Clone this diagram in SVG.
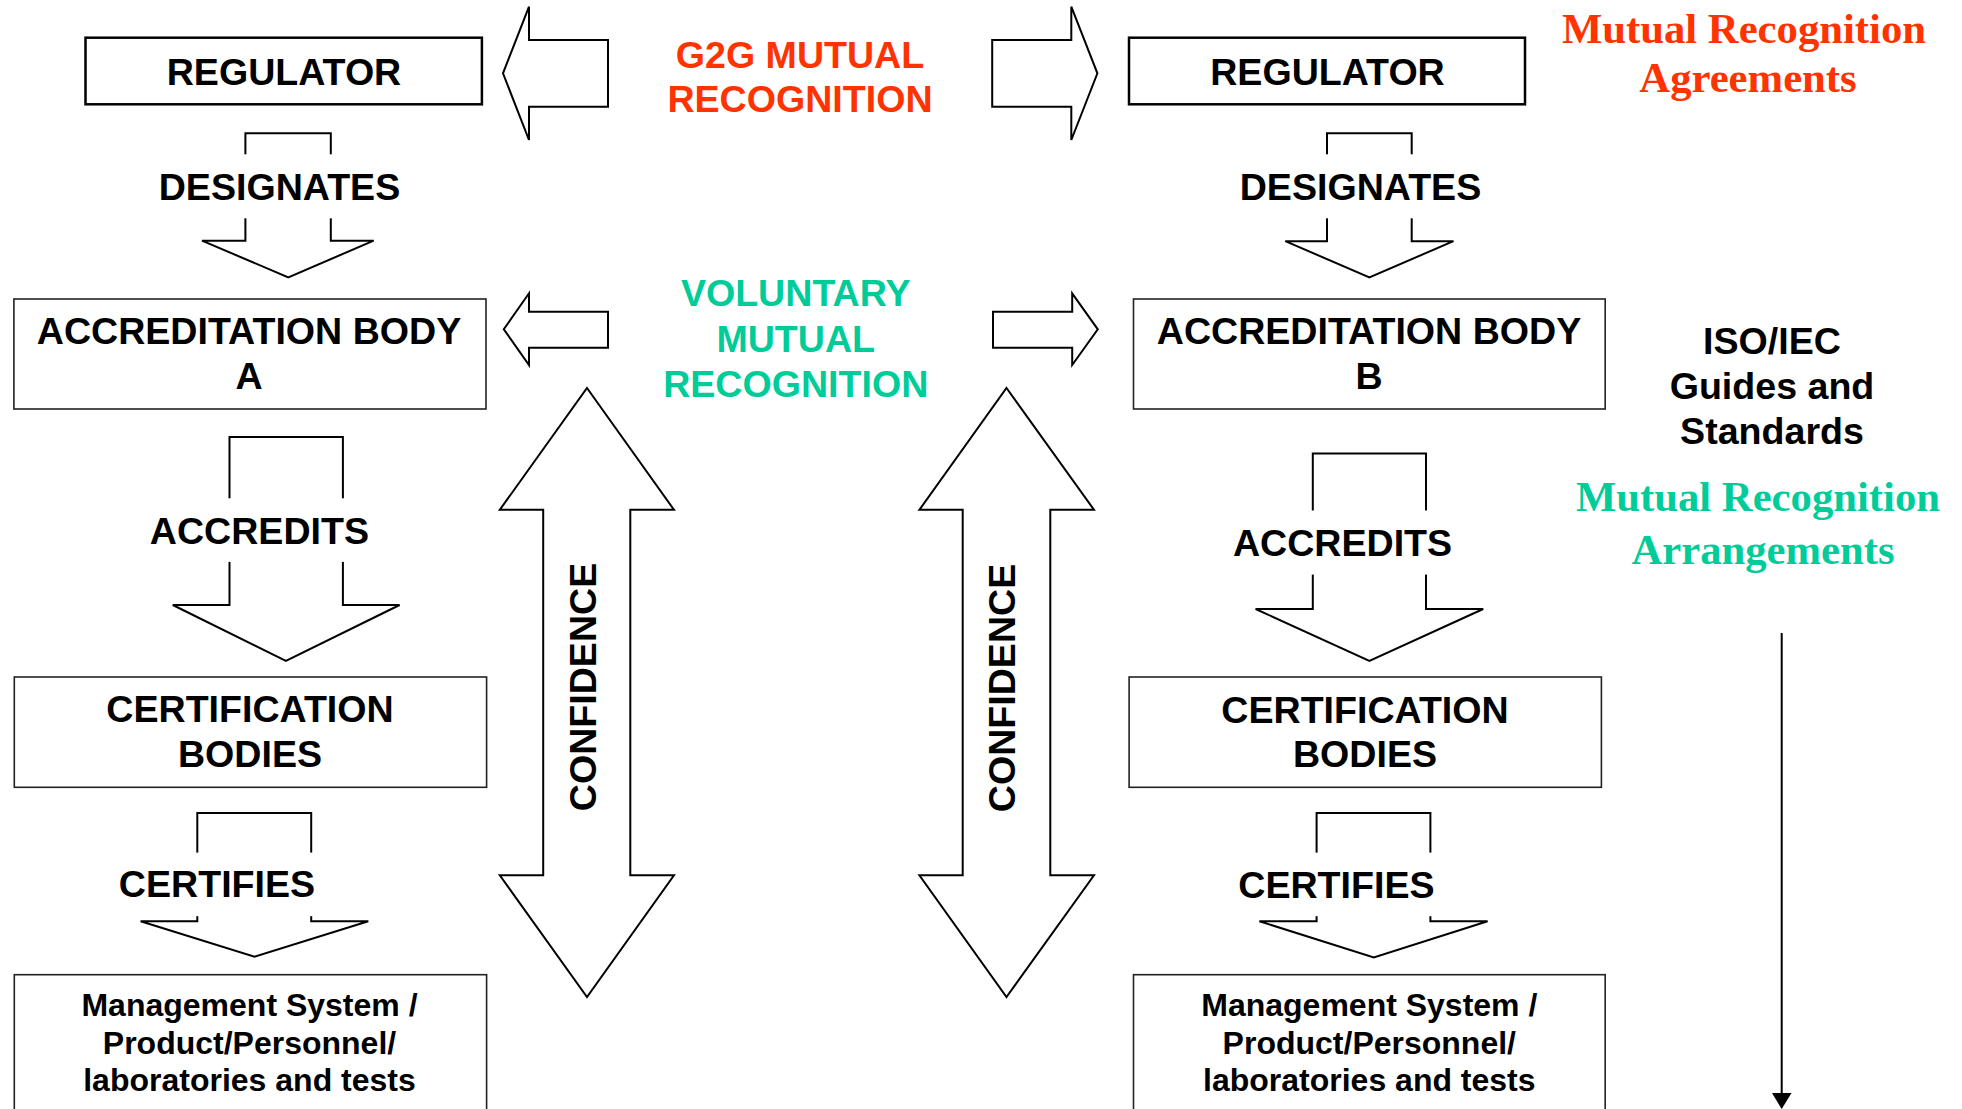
<svg xmlns="http://www.w3.org/2000/svg" width="1962" height="1109" viewBox="0 0 1962 1109">
<style>
.box{fill:#fff;stroke:#222;stroke-width:1.6}
.reg{fill:#fff;stroke:#000;stroke-width:2.5}
.arr{fill:#fff;stroke:#000;stroke-width:2;stroke-linejoin:miter}
.gap{fill:#fff;stroke:none}
.t{font-family:"Liberation Sans",Arial,sans-serif;font-weight:bold;fill:#000;text-anchor:middle}
.big{font-size:37.6px}
.ms{font-size:32px}
.red{fill:#FF3300}
.grn{fill:#00CC99}
.serif{font-family:"Liberation Serif","Times New Roman",serif;font-weight:bold;font-size:42.7px;text-anchor:middle}
</style>
<rect width="1962" height="1109" fill="#fff"/>

<g id="connectors">
  <!-- G2G arrows -->
  <polygon class="arr" points="608,40 529,40 529,6.7 503,73.3 529,140 529,106.7 608,106.7"/>
  <polygon class="arr" points="992.2,40 1071.3,40 1071.3,6.7 1097.4,73.3 1071.3,140 1071.3,106.7 992.2,106.7"/>
  <!-- Voluntary arrows -->
  <polygon class="arr" points="608,311.7 529,311.7 529,293.3 503.8,329.3 529,365 529,347.7 608,347.7"/>
  <polygon class="arr" points="993,311.7 1072.2,311.7 1072.2,293.3 1097.8,329.3 1072.2,365 1072.2,347.7 993,347.7"/>
  <!-- Confidence arrows -->
  <polygon class="arr" points="587,388 674,509.8 630.3,509.8 630.3,875.3 674,875.3 587,997 499.8,875.3 543.2,875.3 543.2,509.8 499.8,509.8"/>
  <polygon class="arr" points="1006.5,388 1094,509.8 1050.3,509.8 1050.3,875.3 1094,875.3 1006.5,997 919.4,875.3 962.7,875.3 962.7,509.8 919.4,509.8"/>
  <!-- Designates A -->
  <polygon class="arr" points="245.4,133.3 330.8,133.3 330.8,240.7 373.7,240.7 288.3,277.3 202,240.7 245.4,240.7"/>
  <rect class="gap" x="240" y="154.3" width="96" height="64"/>
  <!-- Designates B -->
  <polygon class="arr" points="1327,133.3 1411.7,133.3 1411.7,241.2 1453.5,241.2 1369.4,277.3 1285.3,241.2 1327,241.2"/>
  <rect class="gap" x="1321" y="154.3" width="96" height="64"/>
  <!-- Accredits A -->
  <polygon class="arr" points="229.5,437.1 342.9,437.1 342.9,605 399.6,605 285.9,661 172.8,605 229.5,605"/>
  <rect class="gap" x="224" y="498.3" width="125" height="63.6"/>
  <!-- Accredits B -->
  <polygon class="arr" points="1312.8,453.4 1426,453.4 1426,609 1483.2,609 1369.4,661 1255.6,609 1312.8,609"/>
  <rect class="gap" x="1307" y="510.5" width="125" height="64.1"/>
  <!-- Certifies A -->
  <polygon class="arr" points="197.3,813.1 311.2,813.1 311.2,921.3 368.3,921.3 254.5,956.6 140.6,921.3 197.3,921.3"/>
  <rect class="gap" x="192" y="852.6" width="125" height="63.6"/>
  <!-- Certifies B -->
  <polygon class="arr" points="1316.6,813.1 1430.4,813.1 1430.4,921.3 1487.6,921.3 1373.8,957.5 1259.4,921.3 1316.6,921.3"/>
  <rect class="gap" x="1311" y="852.6" width="125" height="63.6"/>
  <!-- Standards flow arrow -->
  <line x1="1781.7" y1="633" x2="1781.7" y2="1095" stroke="#000" stroke-width="2"/>
  <polygon points="1772,1093 1791.5,1093 1781.7,1109" fill="#000"/>
</g>

<g id="label-designates-a"><text class="t big" x="279.5" y="200">DESIGNATES</text></g>
<g id="label-designates-b"><text class="t big" x="1360.5" y="200">DESIGNATES</text></g>
<g id="label-accredits-a"><text class="t big" x="259.4" y="544">ACCREDITS</text></g>
<g id="label-accredits-b"><text class="t big" x="1342.5" y="556">ACCREDITS</text></g>
<g id="label-certifies-a"><text class="t big" x="217" y="897">CERTIFIES</text></g>
<g id="label-certifies-b"><text class="t big" x="1336.4" y="897.7">CERTIFIES</text></g>
<g id="label-confidence-a"><text class="t big" transform="translate(596,687) rotate(-90)" x="0" y="0">CONFIDENCE</text></g>
<g id="label-confidence-b"><text class="t big" transform="translate(1015.3,688) rotate(-90)" x="0" y="0">CONFIDENCE</text></g>

<g id="regulator-a">
  <rect class="reg" x="85.5" y="37.7" width="396.4" height="66.6"/>
  <text class="t big" x="284" y="85">REGULATOR</text>
</g>
<g id="regulator-b">
  <rect class="reg" x="1129" y="37.7" width="396" height="66.6"/>
  <text class="t big" x="1327.5" y="85">REGULATOR</text>
</g>
<g id="accreditation-body-a">
  <rect class="box" x="13.9" y="299" width="472.1" height="110"/>
  <text class="t big" x="249" y="344">ACCREDITATION BODY</text>
  <text class="t big" x="249" y="389">A</text>
</g>
<g id="accreditation-body-b">
  <rect class="box" x="1133.5" y="299" width="471.7" height="110"/>
  <text class="t big" x="1369" y="344">ACCREDITATION BODY</text>
  <text class="t big" x="1369" y="389">B</text>
</g>
<g id="certification-bodies-a">
  <rect class="box" x="14.3" y="677" width="472.3" height="110.3"/>
  <text class="t big" x="250" y="722.2">CERTIFICATION</text>
  <text class="t big" x="250" y="766.5">BODIES</text>
</g>
<g id="certification-bodies-b">
  <rect class="box" x="1129.1" y="677" width="472.3" height="110.3"/>
  <text class="t big" x="1365" y="722.6">CERTIFICATION</text>
  <text class="t big" x="1365" y="767.4">BODIES</text>
</g>
<g id="management-system-a">
  <rect class="box" x="14.3" y="974.7" width="472.3" height="145"/>
  <text class="t ms" x="249.5" y="1016.3">Management System /</text>
  <text class="t ms" x="249.5" y="1053.8">Product/Personnel/</text>
  <text class="t ms" x="249.5" y="1091">laboratories and tests</text>
</g>
<g id="management-system-b">
  <rect class="box" x="1133.5" y="974.7" width="471.7" height="145"/>
  <text class="t ms" x="1369.3" y="1016.3">Management System /</text>
  <text class="t ms" x="1369.3" y="1053.8">Product/Personnel/</text>
  <text class="t ms" x="1369.3" y="1091">laboratories and tests</text>
</g>

<g id="g2g-label">
  <text class="t big red" x="800" y="68.3">G2G MUTUAL</text>
  <text class="t big red" x="800" y="111.7">RECOGNITION</text>
</g>
<g id="voluntary-label">
  <text class="t big grn" x="795.7" y="306">VOLUNTARY</text>
  <text class="t big grn" x="795.7" y="351.7">MUTUAL</text>
  <text class="t big grn" x="795.7" y="396.7">RECOGNITION</text>
</g>
<g id="mra-agreements">
  <text class="serif red" x="1744" y="42.7">Mutual Recognition</text>
  <text class="serif red" x="1748" y="91.7">Agreements</text>
</g>
<g id="iso-iec">
  <text class="t big" x="1772" y="354">ISO/IEC</text>
  <text class="t big" x="1772" y="399">Guides and</text>
  <text class="t big" x="1772" y="444">Standards</text>
</g>
<g id="mra-arrangements">
  <text class="serif grn" x="1758" y="511">Mutual Recognition</text>
  <text class="serif grn" x="1763" y="564">Arrangements</text>
</g>
</svg>
